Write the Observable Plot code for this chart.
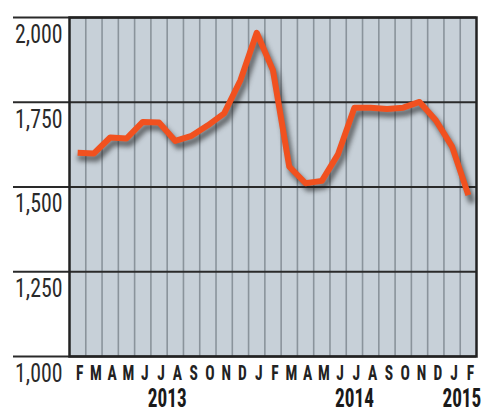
<!DOCTYPE html>
<html>
<head>
<meta charset="utf-8">
<script src="https://cdn.jsdelivr.net/npm/d3@7"></script>
<script src="https://cdn.jsdelivr.net/npm/@observablehq/plot@0.6"></script>
<style>
  html, body { margin: 0; padding: 0; background: #fff; }
  #chart { width: 500px; height: 420px; }
</style>
</head>
<body>
<div id="chart"></div>
<script>
// Month labels, Feb 2013 – Feb 2015
const monthLabels = ["F","M","A","M","J","J","A","S","O","N","D",
                     "J","F","M","A","M","J","J","A","S","O","N","D",
                     "J","F"];
// Values
const values = [1601, 1599, 1646, 1643, 1692, 1690, 1636, 1651, 1682, 1717, 1815,
                1955, 1844, 1560, 1511, 1518, 1597, 1734, 1734, 1730, 1734, 1751, 1697,
                1619, 1476];
// Y tick values
const yTicks = [1000, 1250, 1500, 1750, 2000];
// Year labels
const years = ["2013", "2014", "2015"];

const data = values.map((v, i) => ({i, v}));
const idx = monthLabels.map((m, i) => i);
const yearCenter = [5.5, 17, 23.6];

const condensed = "'Liberation Sans Narrow', 'Roboto Condensed', 'DejaVu Sans Condensed', 'Arial Narrow', sans-serif";

const plot = Plot.plot({
  width: 500,
  height: 420,
  marginLeft: 69,
  marginRight: 24,
  marginTop: 17,
  marginBottom: 64,
  style: {fontFamily: condensed, background: "#fff", overflow: "visible"},
  x: {domain: [-0.5, monthLabels.length - 0.5], axis: null},
  y: {domain: [1000, 2000], axis: null},
  marks: [
    Plot.frame({fill: "#c7d0d8"}),
    Plot.ruleX(idx.slice(1), {x: d => d - 0.5, stroke: "#8a939b", strokeWidth: 1.6}),
    Plot.gridY(yTicks, {stroke: "#2a2a2a", strokeOpacity: 1, strokeWidth: 1.8}),
    Plot.axisY(yTicks, {tickSize: 56, stroke: "#2a2a2a", strokeWidth: 1.8, tickFormat: () => "", label: null}),
    Plot.axisY(yTicks, {tickSize: 0, tickPadding: 7, dy: 17, tickFormat: d3.format(","),
      fontSize: 26, fill: "#2a2a2a", label: null}),
    Plot.line(data, {x: "i", y: "v", stroke: "#1a1a1a", strokeOpacity: 0.6, strokeWidth: 6.5,
      dx: 3, dy: 5, strokeLinejoin: "round", strokeLinecap: "round"}),
    Plot.line(data, {x: "i", y: "v", stroke: "#f1511f", strokeWidth: 6,
      strokeLinejoin: "round", strokeLinecap: "butt"}),
    Plot.frame({stroke: "#222", strokeWidth: 2.5}),
    Plot.axisX(idx, {tickSize: 0, tickPadding: 9, tickFormat: i => monthLabels[i],
      fontSize: 21, fontWeight: "bold", fill: "#222", label: null, dx: 2}),
    Plot.text(years, {x: (d, k) => yearCenter[k], text: d => d, frameAnchor: "bottom",
      lineAnchor: "top", dy: 32, fontSize: 26, fontWeight: "bold", fill: "#1a1a1a"})
  ]
});

document.getElementById("chart").appendChild(plot);
// soft drop shadow under the data line
const lines = plot.querySelectorAll("g[aria-label='line']");
if (lines.length) lines[0].style.filter = "blur(2.5px)";

// condense glyphs horizontally to mimic the compressed newspaper face
function condense(selector, factor) {
  plot.querySelectorAll(selector).forEach(t => {
    const len = t.getComputedTextLength();
    if (len > 0) {
      t.setAttribute("textLength", (len * factor).toFixed(2));
      t.setAttribute("lengthAdjust", "spacingAndGlyphs");
    }
  });
}
condense("g[aria-label='y-axis tick label'] text", 0.84);
condense("g[aria-label='x-axis tick label'] text", 0.74);
condense("g[aria-label='text'] text", 0.74);
</script>
</body>
</html>
